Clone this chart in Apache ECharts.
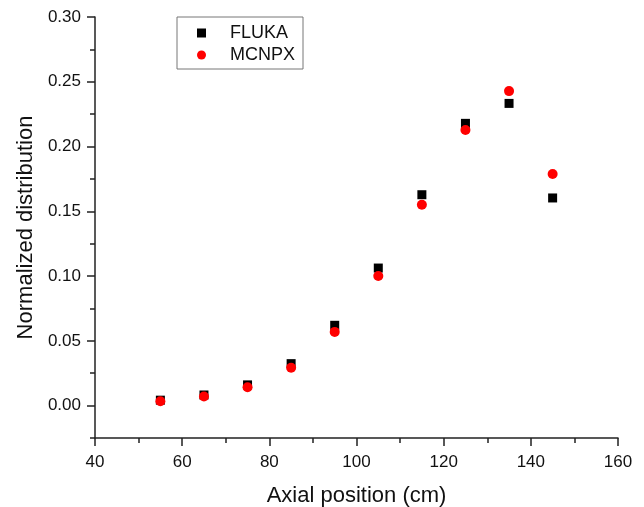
<!DOCTYPE html>
<html>
<head>
<meta charset="utf-8">
<script src="https://cdn.jsdelivr.net/npm/echarts@6/dist/echarts.min.js"></script>
<style>
html,body{margin:0;padding:0;background:#fff;}
#chart{width:644px;height:507px;}
</style>
</head>
<body>
<div id="chart"></div>
<script>
// axial positions (cm)
var positions = [55, 65, 75, 85, 95, 105, 115, 125, 135, 145];
var fluka = [0.0042, 0.0082, 0.0160, 0.0324, 0.0620, 0.1062, 0.1628, 0.2179, 0.2333, 0.1603];
var mcnpx = [0.0034, 0.0070, 0.0142, 0.0293, 0.0569, 0.1001, 0.1551, 0.2127, 0.2428, 0.1788];
var yMajor = [0, 0.05, 0.10, 0.15, 0.20, 0.25, 0.30];
var yMinor = [-0.025, 0.025, 0.075, 0.125, 0.175, 0.225, 0.275];

function pairs(xs, ys) {
    return xs.map(function (x, i) { return [x, ys[i]]; });
}

var chart = echarts.init(document.getElementById('chart'));
var font = 'Liberation Sans, Arial, sans-serif';
var axisColor = '#222';

var option = {
    animation: false,
    backgroundColor: '#fff',
    grid: { left: 95, right: 26, top: 17, bottom: 69, containLabel: false, outerBoundsMode: 'none' },
    legend: {
        orient: 'vertical',
        left: 177,
        top: 17,
        padding: [6, 8, 4, 20],
        borderColor: '#777',
        borderWidth: 1,
        itemWidth: 9,
        itemHeight: 9,
        itemGap: 2,
        textStyle: { fontFamily: font, fontSize: 18, color: '#111', lineHeight: 20, padding: [0, 0, 0, 19] },
        data: [
            { name: 'FLUKA', icon: 'rect' },
            { name: 'MCNPX', icon: 'circle' }
        ]
    },
    xAxis: {
        type: 'value',
        min: 40,
        max: 160,
        interval: 20,
        name: 'Axial position (cm)',
        nameLocation: 'middle',
        nameGap: 47,
        nameTextStyle: { fontFamily: font, fontSize: 22, color: '#111' },
        axisLine: { show: true, onZero: false, lineStyle: { color: axisColor, width: 1.5 } },
        axisTick: { show: true, inside: false, length: 8, lineStyle: { color: axisColor, width: 1.5 } },
        minorTick: { show: true, splitNumber: 2, length: 5, lineStyle: { color: axisColor, width: 1.5 } },
        axisLabel: { fontFamily: font, fontSize: 17, color: '#111', margin: 16 },
        splitLine: { show: false }
    },
    yAxis: [
        {
            type: 'value',
            min: -0.025,
            max: 0.30,
            position: 'left',
            name: 'Normalized distribution',
            nameLocation: 'middle',
            nameGap: 58,
            nameTextStyle: { fontFamily: font, fontSize: 22, color: '#111' },
            axisLine: { show: true, onZero: false, lineStyle: { color: axisColor, width: 1.5 } },
            axisTick: { show: true, inside: false, length: 8, customValues: yMajor, lineStyle: { color: axisColor, width: 1.5 } },
            axisLabel: {
                fontFamily: font, fontSize: 17, color: '#111', margin: 14,
                customValues: yMajor,
                formatter: function (v) { return v.toFixed(2); }
            },
            splitLine: { show: false }
        },
        {
            type: 'value',
            min: -0.025,
            max: 0.30,
            position: 'left',
            offset: 0,
            axisLine: { show: false, onZero: false },
            axisTick: { show: true, inside: false, length: 5, customValues: yMinor, lineStyle: { color: axisColor, width: 1.5 } },
            axisLabel: { show: false },
            splitLine: { show: false }
        }
    ],
    series: [
        {
            name: 'FLUKA',
            type: 'scatter',
            symbol: 'rect',
            symbolSize: 9,
            itemStyle: { color: '#000', opacity: 1 },
            data: pairs(positions, fluka)
        },
        {
            name: 'MCNPX',
            type: 'scatter',
            symbol: 'circle',
            symbolSize: 10,
            itemStyle: { color: '#ff0000', opacity: 1 },
            data: pairs(positions, mcnpx)
        }
    ]
};

chart.setOption(option);
</script>
</body>
</html>
